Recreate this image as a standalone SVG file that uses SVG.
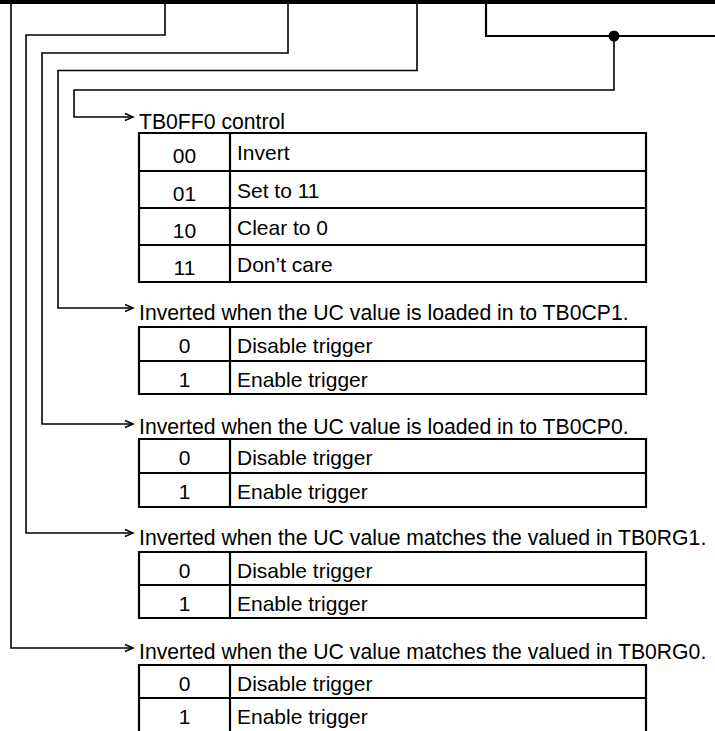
<svg xmlns="http://www.w3.org/2000/svg" width="715" height="731" viewBox="0 0 715 731">
<style>
  text { font-family: "Liberation Sans", Arial, sans-serif; font-size: 21px; fill: #000; }
  .lbl { font-size: 21.2px; }
  .c { text-anchor: middle; }
  .conn { fill: none; stroke: #000; stroke-width: 1.6; }
  .tbl { fill: none; stroke: #000; stroke-width: 2.2; }
</style>
<defs>
  <marker id="arr" markerUnits="userSpaceOnUse" markerWidth="12" markerHeight="10" refX="10" refY="5" orient="auto" overflow="visible">
    <path d="M2,1.5 L10,5 L2,8.5" fill="none" stroke="#000" stroke-width="1.5"/>
  </marker>
</defs>
<rect x="0" y="0" width="715" height="4" fill="#000"/>
<g id="connectors">
  <path class="conn" d="M11,0 V648 H133" marker-end="url(#arr)"/>
  <path class="conn" d="M165,0 V35 H26 V533 H133" marker-end="url(#arr)"/>
  <path class="conn" d="M288,0 V53 H42 V424 H133" marker-end="url(#arr)"/>
  <path class="conn" d="M417,0 V70.5 H58 V308 H133" marker-end="url(#arr)"/>
  <path class="conn" d="M614,36 V90 H74 V117 H133" marker-end="url(#arr)"/>
  <path class="conn" style="stroke-width:2.2" d="M486,0 V36 H715"/>
  <circle cx="614" cy="36" r="5.5" fill="#000"/>
</g>
<g id="ff0-control">
  <text class="lbl" x="139" y="128.5">TB0FF0 control</text>
  <path class="tbl" d="M139,133 H646 V282 H139 Z M230,133 V282 M139,171 H646 M139,208 H646 M139,245 H646"/>
  <text class="c" x="184.5" y="163">00</text><text x="237" y="160">Invert</text>
  <text class="c" x="184.5" y="201">01</text><text x="237" y="198">Set to 11</text>
  <text class="c" x="184.5" y="238">10</text><text x="237" y="235">Clear to 0</text>
  <text class="c" x="184.5" y="275">11</text><text x="237" y="272">Don’t care</text>
</g>
<g id="cp1-trigger">
  <text class="lbl" x="139" y="320">Inverted when the UC value is loaded in to TB0CP1.</text>
  <path class="tbl" d="M139,327 H646 V394 H139 Z M230,327 V394 M139,361 H646"/>
  <text class="c" x="184.5" y="353">0</text><text x="237" y="353">Disable trigger</text>
  <text class="c" x="184.5" y="387">1</text><text x="237" y="387">Enable trigger</text>
</g>
<g id="cp0-trigger">
  <text class="lbl" x="139" y="434">Inverted when the UC value is loaded in to TB0CP0.</text>
  <path class="tbl" d="M139,439 H646 V507 H139 Z M230,439 V507 M139,473 H646"/>
  <text class="c" x="184.5" y="465">0</text><text x="237" y="465">Disable trigger</text>
  <text class="c" x="184.5" y="499">1</text><text x="237" y="499">Enable trigger</text>
</g>
<g id="rg1-trigger">
  <text class="lbl" x="139" y="545">Inverted when the UC value matches the valued in TB0RG1.</text>
  <path class="tbl" d="M139,552 H646 V618 H139 Z M230,552 V618 M139,585 H646"/>
  <text class="c" x="184.5" y="578">0</text><text x="237" y="578">Disable trigger</text>
  <text class="c" x="184.5" y="611">1</text><text x="237" y="611">Enable trigger</text>
</g>
<g id="rg0-trigger">
  <text class="lbl" x="139" y="659">Inverted when the UC value matches the valued in TB0RG0.</text>
  <path class="tbl" d="M139,731 V665 H646 V731 M230,665 V731 M139,698 H646"/>
  <text class="c" x="184.5" y="691">0</text><text x="237" y="691">Disable trigger</text>
  <text class="c" x="184.5" y="724">1</text><text x="237" y="724">Enable trigger</text>
</g>
</svg>
